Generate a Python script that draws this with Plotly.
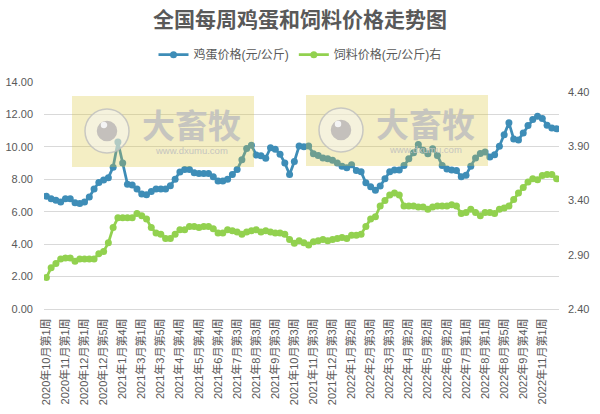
import plotly.graph_objects as go

W, H = 600, 414
L, R, T, B = 44, 559, 82, 309

egg_price = [6.96, 6.8, 6.7, 6.6, 6.8, 6.8, 6.55, 6.5, 6.6, 6.9, 7.4, 7.8, 7.95, 8.1, 8.75, 10.3, 9.0, 7.7,
             7.65, 7.4, 7.1, 7.05, 7.25, 7.4, 7.4, 7.4, 7.6, 8.0, 8.45, 8.6, 8.6, 8.4, 8.35, 8.35, 8.35, 8.15,
             7.9, 7.9, 8.0, 8.3, 8.6, 9.2, 9.9, 10.1, 9.5, 9.45, 9.3, 9.95, 9.85, 9.55, 9.0, 8.3, 9.1, 10.05,
             10.0, 10.05, 9.57, 9.47, 9.32, 9.26, 9.18, 9.01, 8.81, 8.71, 8.89, 8.54, 8.46, 7.78, 7.54, 7.33,
             7.58, 8.03, 8.46, 8.58, 8.58, 8.85, 9.26, 9.63, 10.14, 9.79, 9.57, 9.88, 9.47, 8.85, 8.64, 8.58,
             8.54, 8.15, 8.25, 8.81, 9.32, 9.59, 9.69, 9.38, 9.51, 10.04, 10.74, 11.48, 10.49, 10.43, 10.86,
             11.31, 11.68, 11.89, 11.75, 11.33, 11.17, 11.11]
feed_price = [2.69, 2.78, 2.82, 2.86, 2.87, 2.87, 2.84, 2.86, 2.86, 2.86, 2.86, 2.91, 2.93, 3.01, 3.15, 3.24,
              3.24, 3.24, 3.24, 3.28, 3.26, 3.23, 3.15, 3.10, 3.09, 3.05, 3.05, 3.09, 3.13, 3.13, 3.16, 3.16,
              3.15, 3.16, 3.16, 3.14, 3.10, 3.10, 3.13, 3.12, 3.11, 3.09, 3.11, 3.12, 3.13, 3.11, 3.12, 3.11,
              3.10, 3.10, 3.09, 3.04, 3.005, 3.03, 3.01, 2.99, 3.02, 3.03, 3.04, 3.03, 3.04, 3.05, 3.06, 3.05,
              3.08, 3.08, 3.09, 3.16, 3.23, 3.25, 3.35, 3.40, 3.45, 3.47, 3.45, 3.35, 3.35, 3.35, 3.34, 3.34,
              3.32, 3.34, 3.35, 3.35, 3.35, 3.36, 3.35, 3.28, 3.29, 3.32, 3.29, 3.26, 3.29, 3.29, 3.28, 3.32,
              3.33, 3.35, 3.41, 3.47, 3.52, 3.57, 3.60, 3.59, 3.63, 3.64, 3.64, 3.60]
week_labels = ['2020年10月第1周', '2020年11月第1周', '2020年12月第1周', '2020年12月第5周', '2021年1月第4周',
               '2021年3月第1周', '2021年3月第5周', '2021年4月第4周', '2021年5月第4周', '2021年6月第4周',
               '2021年7月第3周', '2021年8月第3周', '2021年9月第3周', '2021年10月第3周', '2021年11月第3周',
               '2021年12月第3周', '2022年1月第2周', '2022年2月第3周', '2022年3月第3周', '2022年4月第2周',
               '2022年5月第2周', '2022年6月第2周', '2022年7月第1周', '2022年8月第1周', '2022年8月第5周',
               '2022年9月第4周', '2022年11月第1周']
left_ticks = [0, 2, 4, 6, 8, 10, 12, 14]
right_ticks = [2.4, 2.9, 3.4, 3.9, 4.4]

FONT = 'Liberation Sans, Noto Sans CJK SC, sans-serif'
TEXT = '#595959'
EGG = '#3E8DB7'
FEED = '#92D14F'
weeks = list(range(len(egg_price)))


def px(x):
    return (x - L) / (R - L)


def py(y):
    return (B - y) / (B - T)


def watermark(cx, cy):
    '''
        The site's stamp: yellow box, eye logo, name and address. Placed in
        page pixels, it has nothing to do with the data.
    '''
    shapes = [
        dict(type='rect', x0=px(cx - 35), x1=px(cx + 147), y0=py(cy + 36), y1=py(cy - 35),
             fillcolor='rgba(220,200,60,0.3)', line_width=0),
    ]
    for r, fill, edge in [(22, 'rgba(245,245,245,0.5)', 'rgba(190,190,190,0.8)'), (9.5, '#C4C0BC', '#C4C0BC'),
                          (2.5, '#F4F4F4', '#F4F4F4')]:
        dx, dy = (-3, -6) if r == 2.5 else (0, 0)
        shapes.append(dict(type='circle', x0=px(cx + dx - r), x1=px(cx + dx + r), y0=py(cy + dy + r),
                           y1=py(cy + dy - r), fillcolor=fill, line=dict(color=edge, width=1.5)))
    for s in shapes:
        s.update(xref='paper', yref='paper')
    notes = [
        dict(text='<b>大畜牧</b>', x=px(cx + 84), y=py(cy - 5), height=34, font=dict(size=33, color='#C6C5BF')),
        dict(text='www.dxumu.com', x=px(cx + 84), y=py(cy + 19), height=10, font=dict(size=9.5, color='#C6C5BF')),
    ]
    for n in notes:
        n.update(xref='paper', yref='paper', showarrow=False, xanchor='center', yanchor='middle')
    return shapes, notes


fig = go.Figure()
fig.add_trace(go.Scatter(x=weeks, y=egg_price, name='鸡蛋价格(元/公斤)', mode='lines+markers',
                         line=dict(color=EGG, width=2.75), marker=dict(color=EGG, size=7)))
fig.add_trace(go.Scatter(x=weeks, y=feed_price, name='饲料价格(元/公斤)右', mode='lines+markers', yaxis='y2',
                         line=dict(color=FEED, width=2.75), marker=dict(color=FEED, size=7)))

shapes_a, notes_a = watermark(107, 131)
shapes_b, notes_b = watermark(341, 130)

fig.update_layout(
    width=W, height=H,
    margin=dict(l=L, r=W - R, t=T, b=H - B, autoexpand=False),
    paper_bgcolor='white', plot_bgcolor='white',
    font=dict(family=FONT, size=11, color=TEXT),
    title=dict(text='<b>全国每周鸡蛋和饲料价格走势图</b>', x=0.5, xanchor='center', y=0.952, yanchor='middle',
               font=dict(size=21, color=TEXT)),
    legend=dict(orientation='h', x=0.5, xanchor='center', xref='container', y=0.868, yref='container',
                yanchor='middle', font=dict(size=12, color=TEXT), bgcolor='rgba(0,0,0,0)'),
    xaxis=dict(range=[-0.5, len(weeks) - 0.5], tickmode='array', tickvals=weeks[::4], ticktext=week_labels,
               tickangle=-90, showgrid=False, zeroline=False, showline=True, linecolor='#D9D9D9', linewidth=1,
               ticks='', ticklabelstandoff=4, automargin=False, tickfont=dict(size=11, color=TEXT)),
    yaxis=dict(range=[0, 14], tickmode='array', tickvals=left_ticks, tickformat='.2f', gridcolor='#D9D9D9',
               gridwidth=1, zeroline=False, ticks='', ticklabelstandoff=10, automargin=False,
               tickfont=dict(size=11, color=TEXT)),
    yaxis2=dict(range=[2.4, 4.492], overlaying='y', side='right', tickmode='array', tickvals=right_ticks,
                tickformat='.2f', showgrid=False, zeroline=False, ticks='', ticklabelstandoff=8, automargin=False,
                tickfont=dict(size=11, color=TEXT)),
    shapes=shapes_a + shapes_b,
    annotations=notes_a + notes_b,
)

fig.write_html('out.html', config={'displayModeBar': False}, post_script="document.body.style.margin='0';")
